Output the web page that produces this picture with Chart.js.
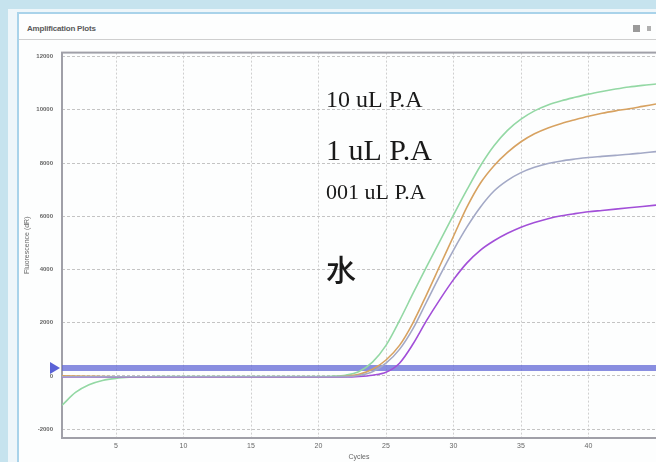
<!DOCTYPE html>
<html>
<head>
<meta charset="utf-8">
<script src="https://cdn.jsdelivr.net/npm/chart.js@4.4.1/dist/chart.umd.min.js"></script>
<style>
  html, body { margin: 0; padding: 0; }
  body { width: 656px; height: 462px; background: #c6e3ee; position: relative; overflow: hidden; }
  .win { position: absolute; left: 8px; top: 9px; width: 660px; height: 470px; background: #eef6fa; }
  .win-inner { position: absolute; left: 17px; top: 12px; width: 660px; height: 470px; background: #fdfefe;
    border-left: 2px solid #a9d3ea; border-top: 2px solid #a9d3ea; box-sizing: border-box; }
  .title { position: absolute; left: 27px; top: 24px; font: bold 8px "Liberation Sans", sans-serif; color: #5a5a5a; letter-spacing: -0.2px; }
  .sep { position: absolute; left: 19px; top: 39px; width: 640px; height: 1px; background: #cfcfcf; }
  .ico1 { position: absolute; left: 633px; top: 25px; width: 7px; height: 7px; background: #9a9a9a; }
  .ico2 { position: absolute; left: 647px; top: 26px; width: 4px; height: 5px; background: #b0b0b0; }
  #wrap { position: absolute; left: 18px; top: 40px; width: 638px; height: 422px; }
</style>
</head>
<body>
<div class="win"></div>
<div class="win-inner"></div>
<div class="title">Amplification Plots</div>
<div class="sep"></div>
<div class="ico1"></div>
<div class="ico2"></div>
<div id="wrap"><canvas id="chart"></canvas></div>
<script>
// Cycle numbers (x axis)
const cycles = [1, 2, 3, 4, 5, 6, 7, 8, 9, 10, 11, 12, 13, 14, 15, 16, 17, 18, 19, 20,
  21, 22, 23, 24, 25, 26, 27, 28, 29, 30, 31, 32, 33, 34, 35, 36, 37, 38, 39, 40,
  41, 42, 43, 44, 45];

// Fluorescence (dR) per cycle
const greenRun = [-1100, -620, -330, -170, -90, -50, -30, -25, -20, -20, -20, -20, -20, -20, -20,
  -25, -25, -25, -20, -20, -10, 30, 170, 520, 1150, 2080, 3100, 4100, 5080, 6050,
  7000, 7900, 8650, 9230, 9650, 9960, 10180, 10340, 10470, 10590, 10690, 10780, 10860, 10920, 10970];
const orangeRun = [10, 0, -10, -20, -30, -30, -30, -30, -30, -30, -30, -30, -30, -30, -30,
  -30, -30, -30, -30, -30, -30, -15, 60, 250, 600, 1150, 2000, 3050, 4150, 5250,
  6350, 7250, 7900, 8400, 8800, 9100, 9320, 9490, 9630, 9760, 9870, 9960, 10040, 10130, 10220];
const grayRun = [-30, -30, -30, -30, -30, -30, -30, -30, -30, -30, -30, -30, -30, -30, -30,
  -30, -30, -30, -30, -30, -30, -25, 20, 160, 480, 1000, 1780, 2780, 3780, 4730,
  5600, 6350, 6950, 7350, 7640, 7840, 7980, 8080, 8150, 8210, 8250, 8290, 8330, 8380, 8430];
const purpleRun = [-40, -40, -40, -40, -40, -40, -40, -40, -40, -40, -40, -40, -40, -40, -40,
  -40, -40, -40, -40, -40, -40, -40, -20, 30, 140, 480, 1200, 2080, 2880, 3620,
  4250, 4730, 5080, 5360, 5590, 5770, 5910, 6020, 6100, 6170, 6220, 6270, 6320, 6370, 6420];

const threshold = 300;
const xTicks = [5, 10, 15, 20, 25, 30, 35, 40];
const yTicks = [-2000, 0, 2000, 4000, 6000, 8000, 10000, 12000];

// Overlay labels written on the plot
const notes = [
  { text: '10 uL P.A', x: 308, y: 67, size: 24 },
  { text: '1 uL P.A', x: 308, y: 120, size: 30 },
  { text: '001 uL P.A', x: 308, y: 159, size: 22 },
  { text: '水', x: 308, y: 241, size: 30, cjk: true },
];

const toPoints = vals => cycles.map((c, i) => ({ x: c, y: vals[i] }));

const seriesStyle = (data, color) => ({
  data,
  borderColor: color,
  backgroundColor: color,
  borderWidth: 1.6,
  pointRadius: 0,
  cubicInterpolationMode: 'monotone',
  fill: false,
});

const frame = {
  id: 'frame',
  beforeDatasetsDraw(chart) {
    const { ctx, chartArea: a } = chart;
    ctx.save();
    ctx.strokeStyle = '#a0a0a8';
    ctx.lineWidth = 2;
    ctx.strokeRect(a.left, a.top, a.right - a.left + 4, a.bottom - a.top);
    ctx.restore();
  },
  afterDatasetsDraw(chart) {
    const { ctx, chartArea: a, scales } = chart;
    const ty = scales.y.getPixelForValue(threshold);
    ctx.save();
    ctx.fillStyle = '#5a62d6';
    ctx.beginPath();
    ctx.moveTo(a.left - 12, ty - 6);
    ctx.lineTo(a.left - 2, ty);
    ctx.lineTo(a.left - 12, ty + 6);
    ctx.closePath();
    ctx.fill();
    ctx.fillStyle = '#1a1a1a';
    notes.forEach(n => {
      ctx.font = (n.cjk ? '500 ' : '') + n.size + 'px ' +
        (n.cjk ? '"Noto Sans CJK SC"' : '"Liberation Serif", "DejaVu Serif", serif');
      ctx.textBaseline = 'alphabetic';
      ctx.fillText(n.text, n.x, n.y);
    });
    ctx.restore();
  },
};

new Chart(document.getElementById('chart'), {
  type: 'line',
  data: {
    datasets: [
      seriesStyle(toPoints(grayRun), '#a3a9c6'),
      seriesStyle(toPoints(purpleRun), '#a24fd8'),
      seriesStyle(toPoints(orangeRun), '#d7a261'),
      seriesStyle(toPoints(greenRun), '#93d8a4'),
      {
        data: [{ x: cycles[0], y: threshold }, { x: cycles[cycles.length - 1], y: threshold }],
        borderColor: 'rgba(98, 104, 214, 0.75)',
        borderWidth: 6,
        pointRadius: 0,
      },
    ],
  },
  options: {
    responsive: true,
    maintainAspectRatio: false,
    animation: false,
    layout: { padding: { top: 8, right: 0, bottom: 0, left: 0 } },
    plugins: { legend: { display: false }, tooltip: { enabled: false } },
    scales: {
      x: {
        type: 'linear',
        min: 1,
        max: 45,
        afterFit: s => { s.height = 24; },
        afterBuildTicks: s => { s.ticks = xTicks.map(v => ({ value: v })); },
        ticks: { color: '#666', font: { family: 'Liberation Sans', size: 7 }, padding: 4 },
        grid: { color: '#cfcfcf', lineWidth: 1, drawTicks: false },
        border: { display: false, dash: [2, 2] },
        title: {
          display: true, text: 'Cycles', color: '#666',
          font: { family: 'Liberation Sans', size: 7 }, padding: { top: 0, bottom: 1 },
        },
      },
      y: {
        min: -2330,
        max: 12150,
        afterFit: s => { s.width = 44; },
        afterBuildTicks: s => { s.ticks = yTicks.map(v => ({ value: v })); },
        ticks: {
          color: '#666', font: { family: 'Liberation Sans', size: 6, weight: 'bold' }, padding: 9,
          callback: v => String(v),
        },
        grid: { color: '#c4c4c4', lineWidth: 1, drawTicks: false },
        border: { display: false, dash: [3, 2] },
        title: {
          display: true, text: 'Fluorescence (dR)', color: '#666',
          font: { family: 'Liberation Sans', size: 7 }, padding: { top: 5, bottom: 0 },
        },
      },
    },
  },
  plugins: [frame],
});
</script>
</body>
</html>
